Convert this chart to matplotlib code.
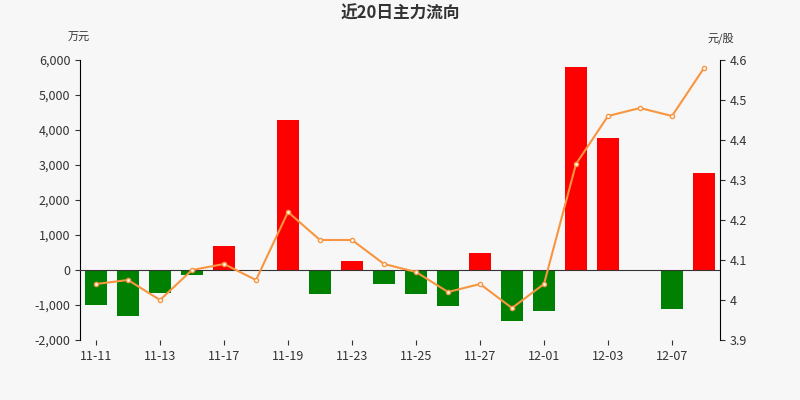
import matplotlib
matplotlib.use("Agg")
import matplotlib.pyplot as plt

plt.rcParams['font.family'] = ['Noto Sans CJK SC', 'DejaVu Sans']

dates = ["11-11","11-12","11-13","11-16","11-17","11-18","11-19","11-20","11-23","11-24",
         "11-25","11-26","11-27","11-30","12-01","12-02","12-03","12-04","12-07","12-08"]
flow = [-1000,-1300,-650,-150,700,10,4280,-680,250,-400,
        -680,-1020,500,-1450,-1180,5800,3780,10,-1100,2780]
price = [4.04,4.05,4.00,4.075,4.09,4.05,4.22,4.15,4.15,4.09,
         4.07,4.02,4.04,3.98,4.04,4.34,4.46,4.48,4.46,4.58]

bg = '#f7f7f7'
fig = plt.figure(figsize=(8, 4), dpi=100, facecolor=bg)
ax = fig.add_axes([0.1, 0.15, 0.8, 0.7], facecolor=bg)
x = list(range(len(dates)))
colors = ['#ff0000' if v > 0 else '#008000' for v in flow]
ax.bar(x, flow, width=0.7, color=colors, zorder=2)
ax.axhline(0, color='#333333', lw=0.8, zorder=3)
ax.set_ylim(-2000, 6000)
ax.set_yticks(range(-2000, 6001, 1000))
ax.set_yticklabels([f"{v:,}" for v in range(-2000, 6001, 1000)])
ax.set_xlim(-0.5, len(dates) - 0.5)
ax.set_xticks(x[::2])
ax.set_xticklabels(dates[::2])
for s in ['top']:
    ax.spines[s].set_visible(False)
ax.spines['right'].set_visible(False)
ax.spines['bottom'].set_visible(False)
ax.tick_params(colors='#333333', labelsize=9)

ax2 = ax.twinx()
ax2.plot(x, price, color='#f89540', lw=1.5, marker='o', ms=3, mfc='white', mec='#f89540', zorder=4)
ax2.set_ylim(3.9, 4.6)
ax2.set_yticks([3.9, 4.0, 4.1, 4.2, 4.3, 4.4, 4.5, 4.6])
ax2.set_yticklabels(["3.9", "4", "4.1", "4.2", "4.3", "4.4", "4.5", "4.6"])
for s in ['top', 'left', 'bottom']:
    ax2.spines[s].set_visible(False)
ax2.tick_params(colors='#333333', labelsize=9)

fig.text(0.5, 0.965, "近20日主力流向", ha='center', va='center', fontsize=12, color='#333333', fontweight='bold')
fig.text(0.085, 0.905, "万元", ha='left', va='center', fontsize=8, color='#333333')
fig.text(0.918, 0.905, "元/股", ha='right', va='center', fontsize=8, color='#333333')

fig.savefig("out.png", dpi=100, facecolor=bg)
